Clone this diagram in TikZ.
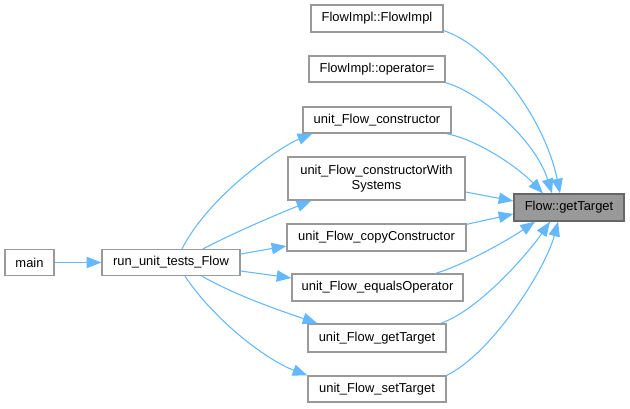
\documentclass[tikz,border=0pt]{standalone}
\usepackage{fontspec}
\setmainfont{Liberation Sans}
\usetikzlibrary{calc,arrows.meta}
\definecolor{edgeblue}{HTML}{63B8FF}
\definecolor{boxline}{HTML}{999999}
\definecolor{rootline}{HTML}{666666}
\definecolor{rootfill}{HTML}{999999}
% sizes below are given in pixels of the drawing, 1px = 0.75pt
\tikzset{
  fn/.style = {draw = boxline, fill = white, line width = 1pt, inner sep = 0pt,
               minimum height = 26*0.75pt, align = center,
               font = \fontsize{9.7}{11.6}\selectfont},
  root/.style = {fn, draw = rootline, fill = rootfill},
  call/.style = {draw = edgeblue, line width = 0.8pt,
                 -{Triangle[length = 11pt, width = 8.5pt]}}
}

\begin{document}
\begin{tikzpicture}[x = 0.75pt, y = -0.75pt]
            \useasboundingbox (0,0) rectangle (630,408);
            % caller
            \node[fn, minimum width = 49*0.75pt](main)at(29.5,262.5){main};
            \node[fn, minimum width = 138*0.75pt](run)at(171,262.5){run\_unit\_tests\_Flow};
            % middle column
            \node[fn, minimum width = 132*0.75pt, minimum height = 27*0.75pt](fi)at(377,18.5){FlowImpl::FlowImpl};
            \node[fn, minimum width = 136*0.75pt](op)at(377,69){FlowImpl::operator=};
            \node[fn, minimum width = 148*0.75pt](ctor)at(377,120){unit\_Flow\_constructor};
            \node[fn, minimum width = 177*0.75pt, minimum height = 43*0.75pt](ws)at(376.5,178.5){unit\_Flow\_constructorWith\\Systems};
            \node[fn, minimum width = 179*0.75pt, minimum height = 27*0.75pt](copy)at(376.5,237.5){unit\_Flow\_copyConstructor};
            \node[fn, minimum width = 171*0.75pt, minimum height = 27*0.75pt](eq)at(377.5,287.5){unit\_Flow\_equalsOperator};
            \node[fn, minimum width = 138*0.75pt, minimum height = 28*0.75pt](ugt)at(377,338){unit\_Flow\_getTarget};
            \node[fn, minimum width = 138*0.75pt](ust)at(377,389){unit\_Flow\_setTarget};
            % callee
            \node[root, minimum width = 110*0.75pt, minimum height = 27*0.75pt](ft)at(569,207.5){Flow::getTarget};
            % main -> run
            \path[call](main.east)--(run.west);
            % run -> unit tests
            \path[call]($(run.north)+(11,0)$) .. controls +(28,-55) and +(-30,12) .. ($(ctor.south west)+(10,0)$);
            \path[call]($(run.north)+(32,0)$) .. controls +(35,-18) and +(-35,14) .. ($(ws.south west)+(24,0)$);
            \path[call]($(run.east)+(0,-8.5)$)--($(copy.west)+(0,8.5)$);
            \path[call]($(run.east)+(0,8.5)$)--($(eq.west)+(0,-9.5)$);
            \path[call]($(run.south)+(31,0)$) .. controls +(35,20) and +(-35,-12) .. ($(ugt.north west)+(10,0)$);
            \path[call]($(run.south)+(14,0)$) .. controls +(30,45) and +(-40,-15) .. (ust.north west);
            % everything -> Flow::getTarget
            \path[call]($(fi.south east)+(0,-2)$) .. controls +(47,15) and +(-15,-74) .. ($(ft.north)+(-9,0)$);
            \path[call](op.south east) .. controls +(35,10) and +(-17,-54) .. ($(ft.north)+(-17,0)$);
            \path[call]($(ctor.south east)+(-5,0)$) .. controls +(34,7) and +(-23,-24) .. ($(ft.north)+(-26,0)$);
            \path[call]($(ws.east)+(0,13.5)$)--($(ft.west)+(0,-6.5)$);
            \path[call]($(copy.north east)+(0,1)$)--($(ft.west)+(0,6.5)$);
            \path[call]($(eq.north east)+(-28,0)$) .. controls +(30,-9) and +(-25,17) .. ($(ft.south)+(-34,0)$);
            \path[call]($(ugt.north east)+(-6,0)$) .. controls +(40,-14) and +(-20,29) .. ($(ft.south)+(-19,0)$);
            \path[call](ust.north east) .. controls +(44,-21) and +(-13,49) .. ($(ft.south)+(-11,0)$);
\end{tikzpicture}
\end{document}
